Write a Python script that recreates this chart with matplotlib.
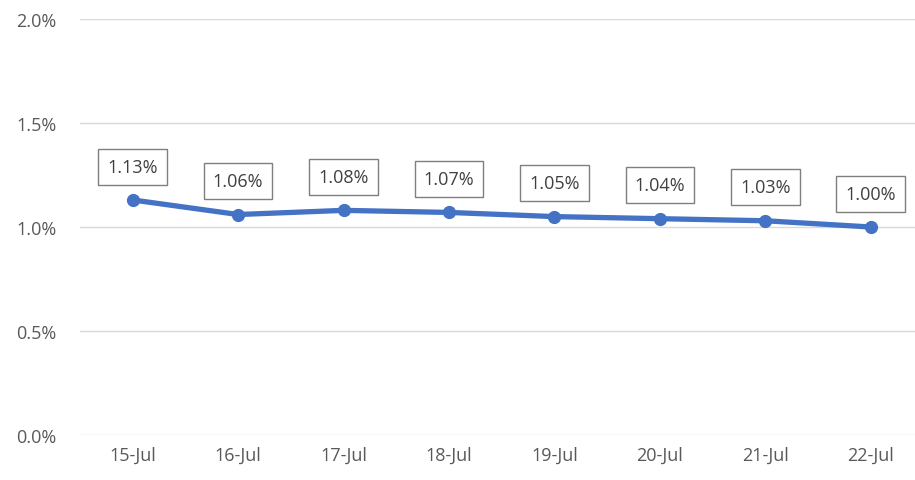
import matplotlib.pyplot as plt
import numpy as np

dates = ['15-Jul', '16-Jul', '17-Jul', '18-Jul', '19-Jul', '20-Jul', '21-Jul', '22-Jul']
rates = [1.13, 1.06, 1.08, 1.07, 1.05, 1.04, 1.03, 1.00]
yticks = [0.0, 0.5, 1.0, 1.5, 2.0]

plt.rcParams['font.family'] = ['Open Sans', 'DejaVu Sans']

fig = plt.figure(figsize=(9.15, 4.81), dpi=100)
ax = fig.add_axes([80 / 915, 45 / 481, 835 / 915, 416 / 481])

x = np.arange(len(dates))
ax.plot(x, rates, color='#4472C4', lw=3.8, marker='o', markersize=8.5,
        solid_capstyle='round', zorder=3)

for xi, v in zip(x, rates):
    ax.annotate(f'{v:.2f}%', (xi, v), xytext=(0, 24), textcoords='offset points',
                ha='center', va='center', fontsize=13, color='#404040',
                bbox=dict(boxstyle='square,pad=0.5', fc='white', ec='#7f7f7f', lw=1))

ax.set_ylim(0, 2.0)
ax.set_xlim(-0.5, 7.42)
ax.set_yticks(yticks)
ax.set_yticklabels([f'{t:.1f}%' for t in yticks])
ax.set_xticks(x)
ax.set_xticklabels(dates)
ax.yaxis.grid(True, color='#d9d9d9', lw=1)
ax.set_axisbelow(True)
for s in ax.spines.values():
    s.set_visible(False)
ax.tick_params(length=0, labelsize=13, labelcolor='#595959')
ax.tick_params(axis='y', pad=17)
ax.tick_params(axis='x', pad=8)

plt.savefig('out.png', dpi=100)
